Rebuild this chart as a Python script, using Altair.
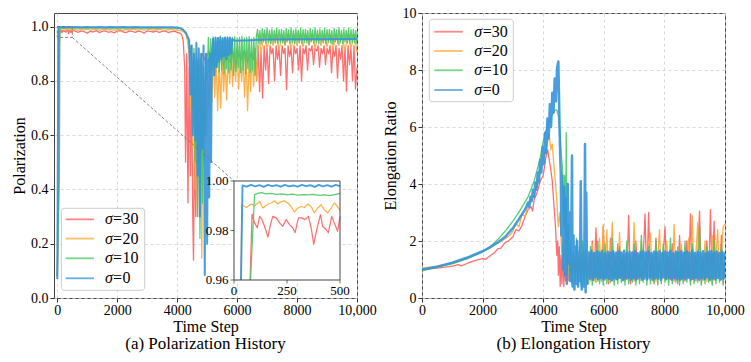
import altair as alt
import pandas as pd

# ---------------- Polarization data (time step, value) ----------------
# sigma = 30
P30_A_X = [0, 70, 76, 85, 97, 110, 121, 132, 144, 160, 172, 183, 199, 215, 230, 246, 262, 277, 288,
           304, 320, 335, 351, 364, 376, 392, 408, 418, 434, 445, 461, 476, 489, 500]
P30_A_Y = [0.08, 0.5, 0.94, 0.9866, 0.9831, 0.9811, 0.9857, 0.9844, 0.9817, 0.9773, 0.9824, 0.9857,
           0.9851, 0.9831, 0.9817, 0.9844, 0.9824, 0.9811, 0.9791, 0.9851, 0.9851, 0.9844, 0.9857,
           0.9811, 0.9744, 0.9811, 0.9864, 0.9817, 0.9804, 0.9791, 0.9857, 0.9824, 0.9797, 0.9857]
P30_B = [0.983, 0.979, 0.984, 0.981, 0.976, 0.983, 0.980, 0.985, 0.978, 0.982,
         0.984, 0.979, 0.981, 0.977, 0.983, 0.985, 0.980, 0.978, 0.984, 0.982,
         0.979, 0.983, 0.981, 0.976, 0.984, 0.982, 0.980, 0.983, 0.979, 0.982,
         0.984, 0.978, 0.981, 0.983, 0.979, 0.975]            # 600..4100 every 100
P30_C_X = [4150, 4200, 4250, 4280, 4320, 4360, 4400, 4440, 4480, 4520, 4545, 4580, 4620, 4660, 4700, 4740, 4800]
P30_C_Y = [0.97, 0.95, 0.85, 0.5, 0.9, 0.35, 0.85, 0.45, 0.8, 0.3, 0.14, 0.6, 0.3, 0.75, 0.88, 0.84, 0.88]
P30_D = [0.90, 0.87, 0.91, 0.86, 0.90, 0.88, 0.91, 0.86, 0.89, 0.87,
         0.91, 0.86, 0.90, 0.88, 0.91, 0.87, 0.90, 0.88]      # 4850..6550 every 100
P30_E = [0.92, 0.80, 0.93, 0.76, 0.91, 0.737, 0.93, 0.84, 0.92, 0.79,
         0.93, 0.90, 0.92, 0.80, 0.93, 0.88, 0.92, 0.82, 0.93, 0.90,
         0.92, 0.768, 0.93, 0.89, 0.92, 0.83, 0.93, 0.90, 0.92, 0.84,
         0.93, 0.80, 0.92, 0.90, 0.93, 0.84, 0.92, 0.91, 0.93, 0.86,
         0.92, 0.91, 0.93, 0.85, 0.92, 0.90, 0.93, 0.86, 0.92, 0.90,
         0.93, 0.83, 0.92, 0.89, 0.93, 0.81, 0.92, 0.88, 0.93, 0.80,
         0.92, 0.762, 0.93, 0.86, 0.92, 0.80, 0.93, 0.77, 0.85]  # 6600..10000 every 50

# sigma = 20
P20_A_X = [0, 25, 33, 37, 58, 82, 97, 121, 136, 160, 176, 191, 207, 223, 238, 254, 270, 285, 301,
           317, 332, 348, 364, 379, 395, 411, 426, 442, 458, 473, 489, 500]
P20_A_Y = [0.08, 0.5, 0.93, 0.9904, 0.9893, 0.9907, 0.9900, 0.9917, 0.9891, 0.9907, 0.9911, 0.9920,
           0.9907, 0.9917, 0.9920, 0.9911, 0.9897, 0.9875, 0.9891, 0.9897, 0.9893, 0.9907, 0.9897,
           0.9871, 0.9891, 0.9904, 0.9884, 0.9871, 0.9891, 0.9911, 0.9897, 0.9880]
P20_B = [0.989, 0.987, 0.990, 0.988, 0.991, 0.987, 0.989, 0.990, 0.986, 0.989,
         0.991, 0.988, 0.989, 0.987, 0.990, 0.989, 0.986, 0.990, 0.988, 0.991,
         0.989, 0.987, 0.990, 0.988, 0.989, 0.991, 0.987, 0.989, 0.990, 0.988,
         0.986, 0.989, 0.990, 0.987, 0.988, 0.985]            # 600..4100 every 100
P20_C_X = [4200, 4300, 4350, 4400, 4440, 4480, 4520, 4560, 4600, 4640, 4680, 4720, 4760, 4800, 4820,
           4860, 4900, 4940, 4980, 5020, 5060]
P20_C_Y = [0.983, 0.97, 0.94, 0.9, 0.7, 0.93, 0.55, 0.9, 0.4, 0.85, 0.3, 0.9, 0.45, 0.88, 0.147,
           0.85, 0.5, 0.8, 0.6, 0.82, 0.7]
P20_D = [0.85, 0.72, 0.90, 0.74, 0.88, 0.69, 0.87, 0.70, 0.90, 0.76,
         0.88, 0.73, 0.90, 0.79, 0.91, 0.78, 0.90, 0.80, 0.92, 0.77,
         0.90, 0.80, 0.88, 0.74, 0.90, 0.69, 0.88, 0.76, 0.90, 0.78,
         0.91, 0.80]                                          # 5100..6650 every 50
P20_E = [0.97, 0.905, 0.975, 0.92, 0.97, 0.93, 0.975, 0.915, 0.97, 0.93,
         0.975, 0.92, 0.97, 0.93, 0.975, 0.925, 0.97, 0.93, 0.975, 0.92,
         0.97, 0.93, 0.975, 0.925, 0.97, 0.915, 0.975, 0.93, 0.97, 0.91,
         0.975, 0.92, 0.97, 0.905]                            # 6700..10000 every 100

# sigma = 10
P10_A_X = [0, 70, 78, 97, 110, 130, 150, 175, 200, 225, 250, 275, 300, 325, 350, 375, 400, 425, 450, 475, 500]
P10_A_Y = [0.08, 0.5, 0.93, 0.9945, 0.9950, 0.9953, 0.9948, 0.9950, 0.9946, 0.9948, 0.9944, 0.9947,
           0.9943, 0.9945, 0.9944, 0.9946, 0.9942, 0.9944, 0.9941, 0.9945, 0.9950]
P10_B = [0.9945, 0.994, 0.995, 0.9942, 0.9948, 0.994, 0.9945, 0.995, 0.9942, 0.9946,
         0.994, 0.9948, 0.9943, 0.9945, 0.993]                # 600..4100 every 250
P10_C_X = [4200, 4300, 4380, 4450, 4480, 4520, 4560, 4600, 4640, 4680, 4720, 4760, 4800, 4840, 4880, 4920, 4960, 5000]
P10_C_Y = [0.99, 0.975, 0.95, 0.9, 0.93, 0.7, 0.92, 0.5, 0.9, 0.3, 0.88, 0.22, 0.9, 0.35, 0.85, 0.6, 0.9, 0.8]
P10_D = [0.96, 0.83, 0.955, 0.84, 0.962, 0.82, 0.958, 0.85, 0.96, 0.83,
         0.965, 0.84, 0.957, 0.825, 0.96, 0.845, 0.963, 0.83, 0.955, 0.84,
         0.96, 0.82, 0.962, 0.835, 0.958, 0.85, 0.96, 0.83, 0.965, 0.84,
         0.957, 0.825, 0.96, 0.845, 0.963, 0.83, 0.955, 0.84, 0.96, 0.82,
         0.962]                                               # 5040..6640 every 40
P10_E = [0.99, 0.94, 0.985, 0.935, 0.993, 0.945, 0.988, 0.938, 0.995, 0.942,
         0.987, 0.936, 0.991, 0.944, 0.986, 0.94, 0.994, 0.937, 0.989, 0.943,
         0.99, 0.94, 0.985, 0.935, 0.993, 0.945, 0.988, 0.938, 0.995, 0.942,
         0.987, 0.936, 0.991, 0.944, 0.986, 0.94, 0.994, 0.937, 0.989, 0.943,
         0.99, 0.94, 0.985, 0.935, 0.993, 0.945, 0.988, 0.938, 0.995, 0.942,
         0.987, 0.936, 0.991, 0.944, 0.986, 0.94, 0.994, 0.937, 0.989, 0.943,
         0.99, 0.94, 0.985, 0.935, 0.993, 0.945, 0.988, 0.938, 0.995, 0.942,
         0.987, 0.936, 0.991, 0.944, 0.986, 0.94, 0.994, 0.937, 0.989, 0.943,
         0.99, 0.94, 0.985, 0.935]                            # 6680..10000 every 40

# sigma = 0
P0_A_X = [0, 12, 24, 33]
P0_A_Y = [0.07, 0.35, 0.7, 0.93]
P0_B = [0.9982, 0.9977, 0.9984, 0.9978, 0.9983, 0.9976, 0.9984, 0.9979, 0.9983, 0.9977,
        0.9984, 0.9978, 0.9982, 0.9977, 0.9984, 0.9979, 0.9983, 0.9976, 0.9984, 0.9978,
        0.9983, 0.9977, 0.9984, 0.9979]                       # 40..500 every 20
P0_C = [0.998, 0.9975, 0.998, 0.9978, 0.998, 0.9976, 0.998, 0.9977, 0.998, 0.9975,
        0.998, 0.9978, 0.9979, 0.9976, 0.9978, 0.9975, 0.9972, 0.997]  # 600..4000 every 200
P0_D_X = [4100, 4200, 4290, 4360, 4400, 4440, 4480, 4520, 4560, 4600, 4640, 4680, 4720, 4760, 4800,
          4840, 4880, 4920, 4960, 5000, 5040, 5070, 5100, 5130, 5160]
P0_D_Y = [0.994, 0.988, 0.977, 0.96, 0.95, 0.75, 0.93, 0.6, 0.9, 0.58, 0.94, 0.45, 0.92, 0.3, 0.9,
          0.55, 0.93, 0.085, 0.9, 0.2, 0.88, 0.37, 0.9, 0.5, 0.9]
P0_E = [0.955, 0.82, 0.96, 0.85, 0.958, 0.87, 0.96, 0.88, 0.957, 0.89, 0.96, 0.88, 0.958, 0.895,
        0.96, 0.9, 0.955]                                     # 5200..5840 every 40
P0_F_X = [5900, 6500, 7000, 8000, 9000, 10000]
P0_F_Y = [0.948, 0.950, 0.952, 0.953, 0.953, 0.954]

# ---------------- Elongation data ----------------
E30_A_X = [0, 500, 1000, 1200, 1300, 1500, 1800, 2000, 2100, 2250, 2400, 2500, 2600, 2750, 2850,
           3000, 3100, 3200, 3300, 3400, 3500, 3600, 3650, 3700, 3800, 3900, 4000, 4050, 4100, 4150,
           4200, 4250, 4300, 4350, 4400, 4450, 4480, 4500, 4530, 4560, 4590, 4620, 4650, 4680, 4710,
           4740, 4780]
E30_A_Y = [1.0, 1.05, 1.12, 1.17, 1.13, 1.22, 1.33, 1.38, 1.36, 1.48, 1.6, 1.72, 1.75, 1.95, 2.0,
           2.15, 2.4, 2.35, 2.55, 2.85, 3.1, 3.2, 3.05, 3.45, 3.7, 4.1, 4.3, 4.65, 5.0, 5.2,
           4.85, 4.5, 4.1, 3.3, 2.6, 1.5, 2.0, 0.8, 1.8, 0.4, 1.5, 0.5, 1.8, 0.4, 1.2,
           0.6, 1.0]
E30_B = [1.5, 0.6, 1.3, 0.7, 1.6, 0.5, 1.4, 0.65, 1.5, 0.55, 1.3, 0.7, 1.6, 0.6]   # 4800..5450 every 50
E30_C = [1.4, 0.65, 2.0, 0.6, 2.46, 0.7, 1.5, 0.6, 2.5, 0.65,
         1.4, 0.5, 2.1, 0.6, 1.5, 0.65, 1.9, 0.7, 1.4, 0.6,
         1.5, 0.65, 2.9, 0.5, 1.4, 0.6, 2.0, 0.65, 1.5, 0.7,
         1.4, 2.95, 0.65, 3.0, 0.6, 1.5, 0.5, 2.1, 0.65, 1.4,
         0.6, 1.5, 2.5, 0.7, 1.4, 0.65, 1.9, 0.6, 1.5, 0.5,
         2.2, 0.65, 1.4, 0.6, 2.0, 0.7, 2.95, 0.65, 1.5, 0.6,
         1.4, 3.05, 0.5, 1.5, 0.65, 2.0, 0.6, 3.1, 0.5, 2.7,
         0.65, 1.5, 0.6, 2.2, 0.5, 1.6]                      # 5500..10000 every 60

E20_A_X = [0, 500, 1000, 1500, 2000, 2500, 2750, 2900, 3000, 3100, 3200, 3300, 3400, 3500, 3600,
           3700, 3800, 3900, 4000, 4100, 4150, 4200, 4250, 4300, 4350, 4400, 4450, 4500, 4550, 4600,
           4650, 4700, 4750, 4800, 4850, 4900, 4950, 5000, 5050, 5100, 5150, 5200, 5250, 5300, 5350,
           5400, 5450]
E20_A_Y = [1.05, 1.12, 1.22, 1.4, 1.62, 1.92, 2.08, 2.2, 2.35, 2.62, 2.5, 2.95, 2.85, 3.25, 3.45,
           3.55, 4.05, 4.45, 4.85, 5.25, 5.5, 5.73, 5.2, 5.4, 4.7, 4.1, 3.4, 2.5, 3.0, 1.8,
           1.2, 2.0, 0.7, 1.5, 0.8, 1.2, 0.6, 1.4, 0.7, 1.6, 0.6, 1.5, 0.8, 1.7, 0.6,
           1.5, 0.7]
E20_B = [1.5, 0.6, 1.9, 0.62, 1.4, 0.58, 2.1, 0.6, 2.58, 0.62,
         2.4, 0.6, 1.5, 2.65, 0.58, 1.4, 0.6, 2.3, 0.62, 1.5,
         0.6, 1.9, 0.58, 1.4, 0.62, 2.65, 0.6, 1.5, 0.58, 2.0,
         0.6, 1.4, 0.62, 1.8, 2.28, 0.6, 1.5, 0.58, 1.4, 2.4,
         0.6, 1.5, 0.62, 2.0, 0.58, 1.4, 0.6, 2.58, 0.62, 1.5,
         0.6, 1.9, 0.58, 1.4, 0.62, 2.1, 0.6, 2.9, 0.58, 1.5,
         2.65, 0.6, 1.4, 0.62, 2.0, 0.58, 1.5, 0.6, 2.2, 0.62,
         1.4, 2.4, 0.6, 1.5, 2.5, 2.6]                       # 5500..10000 every 60

E10_A_X = [0, 500, 1000, 1500, 2000, 2300, 2500, 2750, 3000, 3250, 3500, 3700, 3900, 4000, 4100,
           4200, 4300, 4400, 4450, 4500, 4550, 4600, 4640, 4680, 4710, 4740, 4760, 4790, 4830, 4870,
           4910, 4950, 5000, 5050, 5100, 5150, 5200, 5250, 5300, 5350, 5400, 5450]
E10_A_Y = [0.95, 1.08, 1.2, 1.38, 1.62, 1.85, 2.05, 2.35, 2.7, 3.1, 3.55, 4.1, 4.9, 5.5, 5.9,
           6.2, 6.45, 6.6, 6.6, 6.4, 5.8, 5.0, 4.5, 2.5, 4.3, 1.2, 5.8, 0.8, 2.6, 0.6,
           2.0, 0.5, 1.5, 0.6, 2.1, 0.5, 1.8, 0.45, 2.0, 0.5, 1.7, 0.5]
E10_B = [0.5, 1.8, 0.45, 1.5, 0.55, 2.0, 0.5, 1.4, 0.45, 1.9,
         0.5, 1.5, 0.55, 2.1, 0.45, 1.4, 0.5, 1.8, 0.55, 1.5,
         0.45, 2.0, 0.5, 1.4, 0.55, 1.9, 0.45, 1.5, 0.5, 2.2,
         0.55, 1.4, 0.45, 1.8, 0.5, 1.5, 0.55, 2.0, 0.45, 1.4,
         0.5, 1.9, 0.55, 1.5, 0.45, 2.1, 0.5, 1.4, 0.55, 1.8,
         0.45, 1.5, 0.5, 2.0, 0.55, 1.4, 0.45, 1.9, 0.5, 1.5,
         0.55, 2.5, 0.45, 1.4, 0.5, 1.8, 0.55, 1.5, 0.45, 2.0,
         0.5, 1.4, 0.55, 1.9, 0.45, 1.6]                     # 5500..10000 every 60

E0_A_X = [0, 500, 1000, 1500, 2000, 2250, 2500, 2750, 3000, 3250, 3400]
E0_A_Y = [1.0, 1.1, 1.24, 1.42, 1.64, 1.78, 1.95, 2.15, 2.45, 2.85, 3.1]
E0_B = [3.35, 3.2, 3.55, 3.4, 3.8, 3.55, 4.05, 3.8, 4.4, 4.05, 4.85, 4.4, 5.3, 4.7, 5.8, 5.1,
        6.3, 5.6, 6.8, 6.0, 7.2, 6.5, 7.7, 6.9, 8.1, 8.3]      # 3500..4500 every 40
E0_C_X = [4520, 4540, 4560, 4580, 4600, 4630, 4660, 4690, 4720, 4750, 4780, 4810, 4840, 4870, 4900,
          4930, 4950, 4970, 5000, 5030, 5060, 5090, 5120, 5150, 5180, 5210, 5240, 5270, 5300, 5330,
          5360, 5380, 5400, 5420, 5450, 5480]
E0_C_Y = [7.2, 6.0, 5.0, 4.4, 2.2, 4.3, 1.0, 3.9, 0.8, 3.5, 0.5, 4.0, 1.2, 3.0, 0.6,
          2.5, 5.0, 0.4, 2.2, 0.3, 1.8, 0.5, 2.0, 0.4, 1.6, 0.6, 4.1, 0.3, 1.5, 0.4,
          2.0, 5.4, 0.2, 3.7, 0.5, 1.6]
E0_D = [1.6, 0.68, 1.65, 0.64, 1.58, 0.72, 1.63, 0.66, 1.6, 0.7,
        1.66, 0.65, 1.57, 0.7, 1.62, 0.67, 1.6, 0.63, 1.64, 0.69,
        1.59, 0.66, 1.63, 0.71, 1.6, 0.64, 1.66, 0.68, 1.58, 0.7,
        1.62, 0.65, 1.6, 0.69, 1.64, 0.66, 1.57, 0.72, 1.61, 0.64,
        1.65, 0.68, 1.6, 0.66, 1.63, 0.7, 1.58, 0.65, 1.62, 0.69,
        1.6, 0.68, 1.65, 0.64, 1.58, 0.72, 1.63, 0.66, 1.6, 0.7,
        1.66, 0.65, 1.57, 0.7, 1.62, 0.67, 1.6, 0.63, 1.64, 0.69,
        1.59, 0.66, 1.63, 0.71, 1.6, 0.64, 1.66, 0.68, 1.58, 0.7,
        1.62, 0.65, 1.6, 0.69, 1.64, 0.66, 1.57, 0.72, 1.61, 0.64,
        1.65, 0.68, 1.6, 0.66, 1.63, 0.7, 1.58, 0.65, 1.62, 0.69,
        1.6]                                                  # 5500..10000 every 45

LEGEND_NUMS = ["30", "20", "10", "0"]
X_TICKS = [0, 2000, 4000, 6000, 8000, 10000]
P_Y_TICKS = [0.0, 0.2, 0.4, 0.6, 0.8, 1.0]
E_Y_TICKS = [0, 2, 4, 6, 8, 10]
INSET_X_TICKS = [0, 250, 500]
INSET_Y_TICKS = [0.96, 0.98, 1.00]

# ---------------- style / layout ----------------
FONT = "Liberation Serif"
COLORS = ["#FF5F5F", "#FFA733", "#48C763", "#3493DA"]
P_WIDTHS = [1.3, 1.3, 1.3, 2.0]
E_WIDTHS = [1.3, 1.3, 1.3, 2.5]
W, H = 303, 285
P_XDOM, P_YDOM = [-110, 10000], [0, 1.05]
E_XDOM, E_YDOM = [0, 10000], [0, 10]
IX0, IX1, IYT, IYB = 180, 286, 168, 267       # inset box in left-panel pixels
I_XDOM, I_YDOM = [0, 500], [0.96, 1.0]


def assemble(*parts):
    xs, ys = [], []
    for p in parts:
        if len(p) == 2:
            xs += list(p[0]); ys += list(p[1])
        else:
            x0, dx, vals = p
            xs += [x0 + i * dx for i in range(len(vals))]
            ys += list(vals)
    return pd.DataFrame({"x": xs, "y": ys})


POL = [
    assemble((P30_A_X, P30_A_Y), (600, 100, P30_B), (P30_C_X, P30_C_Y), (4850, 100, P30_D), (6600, 50, P30_E)),
    assemble((P20_A_X, P20_A_Y), (600, 100, P20_B), (P20_C_X, P20_C_Y), (5100, 50, P20_D), (6700, 100, P20_E)),
    assemble((P10_A_X, P10_A_Y), (600, 250, P10_B), (P10_C_X, P10_C_Y), (5040, 40, P10_D), (6680, 40, P10_E)),
    assemble((P0_A_X, P0_A_Y), (40, 20, P0_B), (600, 200, P0_C), (P0_D_X, P0_D_Y), (5200, 40, P0_E), (P0_F_X, P0_F_Y)),
]
ELO = [
    assemble((E30_A_X, E30_A_Y), (4800, 50, E30_B), (5500, 60, E30_C)),
    assemble((E20_A_X, E20_A_Y), (5500, 60, E20_B)),
    assemble((E10_A_X, E10_A_Y), (5500, 60, E10_B)),
    assemble((E0_A_X, E0_A_Y), (3500, 40, E0_B), (E0_C_X, E0_C_Y), (5500, 45, E0_D)),
]

X_LABEL_EXPR = "datum.value == 10000 ? '10,000' : format(datum.value, 'd')"


def main_axes(ytitle, yticks, yfmt):
    xa = alt.Axis(title="Time Step", values=X_TICKS, labelExpr=X_LABEL_EXPR, grid=True,
                  tickSize=4, labelPadding=1, titlePadding=1.5)
    ya = alt.Axis(title=ytitle, values=yticks, format=yfmt, grid=True,
                  tickSize=4, labelPadding=2, titlePadding=3.5)
    return xa, ya


def lines(dfs, widths, xs, ys, xa, ya):
    out = []
    for df, c, w in zip(dfs, COLORS, widths):
        out.append(alt.Chart(df).mark_line(color=c, strokeWidth=w, opacity=0.9, strokeJoin="round",
                                           clip=True).encode(
            x=alt.X("x:Q", scale=xs, axis=xa), y=alt.Y("y:Q", scale=ys, axis=ya)))
    return out


def legend(bx0, bx1, by0, by1, rows, sw0, sw1, sx, ex, nx):
    one = pd.DataFrame({"k": [0]})
    out = [alt.Chart(one).mark_rect(fill="white", fillOpacity=0.85, stroke="#cccccc", strokeWidth=1,
                                    cornerRadius=3).encode(
        x=alt.value(bx0), x2=alt.value(bx1), y=alt.value(by0), y2=alt.value(by1))]
    for ry, c, num in zip(rows, COLORS, LEGEND_NUMS):
        out.append(alt.Chart(one).mark_rule(color=c, strokeWidth=1.8, opacity=0.75).encode(
            x=alt.value(sw0), x2=alt.value(sw1), y=alt.value(ry)))
        out.append(alt.Chart(one).mark_text(text="σ", font=FONT, fontSize=16, fontStyle="italic",
                                            align="left", baseline="middle", color="black").encode(
            x=alt.value(sx), y=alt.value(ry)))
        out.append(alt.Chart(one).mark_text(text="=", font=FONT, fontSize=16, align="left",
                                            baseline="middle", color="black").encode(
            x=alt.value(ex), y=alt.value(ry)))
        out.append(alt.Chart(one).mark_text(text=num, font=FONT, fontSize=16, align="left",
                                            baseline="middle", color="black").encode(
            x=alt.value(nx), y=alt.value(ry)))
    return out


# ---------------- left panel ----------------
pxs = alt.Scale(domain=P_XDOM, nice=False, zero=False)
pys = alt.Scale(domain=P_YDOM, nice=False, zero=False)
pxa, pya = main_axes("Polarization", P_Y_TICKS, ".1f")
left_lines = lines(POL, P_WIDTHS, pxs, pys, pxa, pya)

# inset box expressed in main-panel data coordinates (inverse of the main scales)
MX0 = P_XDOM[0] + IX0 / W * (P_XDOM[1] - P_XDOM[0])
MX1 = P_XDOM[0] + IX1 / W * (P_XDOM[1] - P_XDOM[0])
MYT = P_YDOM[1] - IYT / H * (P_YDOM[1] - P_YDOM[0])
MYB = P_YDOM[1] - IYB / H * (P_YDOM[1] - P_YDOM[0])


def ix(f):
    return f"{MX0} + (datum.{f} - {I_XDOM[0]}) / {I_XDOM[1] - I_XDOM[0]} * {MX1 - MX0}"


def iy(f):
    return (f"{MYB} + (clamp(datum.{f}, {I_YDOM[0]}, {I_YDOM[1]}) - {I_YDOM[0]}) / "
            f"{I_YDOM[1] - I_YDOM[0]} * {MYT - MYB}")


def enc(ch, xf="x", yf="y", x2=None, y2=None):
    # same scales and same axis objects as the line layers, so the shared axes merge cleanly
    e = dict(x=alt.X(f"{xf}:Q", scale=pxs, axis=pxa), y=alt.Y(f"{yf}:Q", scale=pys, axis=pya))
    if x2:
        e["x2"] = x2
    if y2:
        e["y2"] = y2
    return ch.encode(**e)


zoom_box = pd.DataFrame({"x": [I_XDOM[0]], "x2": [I_XDOM[1]], "y": [I_YDOM[0]], "y2": [I_YDOM[1]]})
zoom_rect = enc(alt.Chart(zoom_box).mark_rect(filled=False, stroke="#777777", strokeWidth=0.9,
                                              strokeDash=[3, 2]), x2="x2", y2="y2")
conn = pd.DataFrame({"x": [I_XDOM[1]], "y": [I_YDOM[0]], "ix": [I_XDOM[0]], "iy": [I_YDOM[1]]})
connector = enc(alt.Chart(conn).transform_calculate(cx=ix("ix"), cy=iy("iy")).mark_rule(
    color="#777777", strokeWidth=0.9, strokeDash=[3, 2]), x2="cx", y2="cy")

inset_bg = enc(alt.Chart(zoom_box).transform_calculate(
    ax=ix("x"), ax2=ix("x2"), ay=iy("y"), ay2=iy("y2")).mark_rect(fill="white", strokeWidth=0),
    "ax", "ay", x2="ax2", y2="ay2")
inset_lines = []
for df, c, w in zip(POL, COLORS, P_WIDTHS):
    inset_lines.append(enc(alt.Chart(df).transform_filter(
        (alt.datum.x <= I_XDOM[1]) & (alt.datum.y >= 0.9)).transform_calculate(
        ax=ix("x"), ay=iy("y")).mark_line(color=c, strokeWidth=w * 0.95, opacity=0.9,
                                          strokeJoin="round"), "ax", "ay"))
inset_frame = enc(alt.Chart(zoom_box).transform_calculate(
    ax=ix("x"), ax2=ix("x2"), ay=iy("y"), ay2=iy("y2")).mark_rect(
    filled=False, stroke="#444444", strokeWidth=1), "ax", "ay", x2="ax2", y2="ay2")

ixt = pd.DataFrame({"x": INSET_X_TICKS, "y": [I_YDOM[0]] * len(INSET_X_TICKS)})
iyt = pd.DataFrame({"y": INSET_Y_TICKS, "x": [I_XDOM[0]] * len(INSET_Y_TICKS)})
inset_xticks = enc(alt.Chart(ixt).transform_calculate(ax=ix("x"), ay=iy("y")).mark_tick(
    orient="vertical", size=3.5, thickness=1, yOffset=1.75, color="#333333"), "ax", "ay")
inset_yticks = enc(alt.Chart(iyt).transform_calculate(ax=ix("x"), ay=iy("y")).mark_tick(
    orient="horizontal", size=3.5, thickness=1, xOffset=-1.75, color="#333333"), "ax", "ay")
inset_xlabels = enc(alt.Chart(ixt).transform_calculate(
    ax=ix("x"), ay=iy("y"), t="format(datum.x, 'd')").mark_text(
    font=FONT, fontSize=13, baseline="top", dy=5, color="black"), "ax", "ay").encode(text="t:N")
inset_ylabels = enc(alt.Chart(iyt).transform_calculate(
    ax=ix("x"), ay=iy("y"), t="format(datum.y, '.2f')").mark_text(
    font=FONT, fontSize=13, align="right", baseline="middle", dx=-5.5, color="black"),
    "ax", "ay").encode(text="t:N")

left = alt.layer(
    *left_lines, zoom_rect, connector, inset_bg, *inset_lines, inset_frame,
    inset_xticks, inset_yticks, inset_xlabels, inset_ylabels,
    *legend(7.4, 90.7, 195.3, 277.3, [206.3, 225.6, 245.3, 265.3], 11.7, 40, 51, 59, 68.4)
).properties(width=W, height=H, title=alt.TitleParams("(a) Polarization History"))

# ---------------- right panel ----------------
exs = alt.Scale(domain=E_XDOM, nice=False, zero=False)
eys = alt.Scale(domain=E_YDOM, nice=False, zero=False)
exa, eya = main_axes("Elongation Ratio", E_Y_TICKS, "d")
right = alt.layer(
    *lines(ELO, E_WIDTHS, exs, eys, exa, eya),
    *legend(7.3, 91.3, 6.3, 88.7, [18.7, 38, 57.3, 77], 12.3, 40.7, 52.3, 60.7, 69.7)
).properties(width=W, height=H, title=alt.TitleParams("(b) Elongation History"))

chart = alt.hconcat(left, right, spacing=65, bounds="flush").properties(
    padding={"left": 10, "top": 5, "right": 5, "bottom": 5}
).configure_view(stroke="#444444", strokeWidth=1).configure_axis(
    labelFont=FONT, labelFontSize=14, labelColor="black", titleFont=FONT, titleFontSize=16,
    titleFontWeight="normal", titleColor="black", tickColor="#333333", domain=False,
    gridColor="#cfcfcf", gridDash=[3, 3], gridWidth=0.8, labelFlush=False, labelOverlap=False
).configure_title(font=FONT, fontSize=17, fontWeight="normal", color="black", orient="bottom",
                  anchor="middle", offset=1)

chart.save("out.html", embed_options={"renderer": "svg", "actions": False})
